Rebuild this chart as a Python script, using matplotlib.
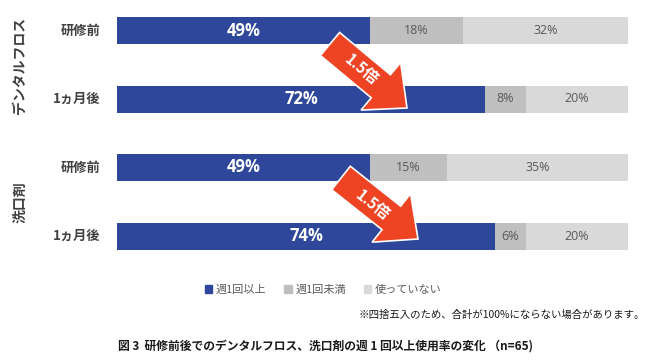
import matplotlib
matplotlib.use("Agg")
import matplotlib.pyplot as plt
import matplotlib.patches as mpatches
import numpy as np

plt.rcParams['font.family'] = ['Noto Sans CJK JP', 'DejaVu Sans']

# ---- data ----
groups = ["デンタルフロス", "洗口剤"]
row_labels = ["研修前", "1ヵ月後", "研修前", "1ヵ月後"]
weekly_plus = [49, 72, 49, 74]      # 週1回以上
weekly_less = [18, 8, 15, 6]        # 週1回未満
not_using = [32, 20, 35, 20]        # 使っていない
series_names = ["週1回以上", "週1回未満", "使っていない"]
arrow_text = "1.5倍"
footnote = "※四捨五入のため、合計が100%にならない場合があります。"
caption = "図 3  研修前後でのデンタルフロス、洗口剤の週 1 回以上使用率の変化 （n=65)"

colors = ["#2E479B", "#BFBFBF", "#D9D9D9"]

W, H = 650, 361
fig = plt.figure(figsize=(W / 100, H / 100), dpi=100)

# bar axes: x pixels 117-628, y pixels 0-270
ax = fig.add_axes([117 / W, 1 - 270 / H, 511 / W, 270 / H])
ypos = np.arange(len(row_labels))
vals = np.array([weekly_plus, weekly_less, not_using], dtype=float)
totals = vals.sum(axis=0)
fracs = vals / totals
left = np.zeros(len(row_labels))
bar_h = 27 / 68.5
for i in range(3):
    ax.barh(ypos, fracs[i], left=left, height=bar_h, color=colors[i],
            edgecolor='none', label=series_names[i])
    for j in range(len(row_labels)):
        cx = left[j] + fracs[i][j] / 2
        if i == 0:
            ax.text(cx, ypos[j], f"{int(vals[i][j])}%", ha='center', va='center',
                    color='white', fontsize=12, fontweight='bold',
                    family=['Open Sans', 'DejaVu Sans'])
        else:
            ax.text(cx, ypos[j], f"{int(vals[i][j])}%", ha='center', va='center',
                    color='#595959', fontsize=9, family=['Open Sans', 'DejaVu Sans'])
    left += fracs[i]

ax.set_xlim(0, 1)
ax.set_ylim((270 - 30.5) / 68.5, -30.5 / 68.5)
ax.axis('off')

# row labels
for j, lab in enumerate(row_labels):
    ax.text(-17 / 511, ypos[j], lab, ha='right', va='center', fontsize=9.5,
            fontweight='bold', color='#404040')

# overlay in pixel coordinates
ov = fig.add_axes([0, 0, 1, 1])
ov.set_xlim(0, W)
ov.set_ylim(H, 0)
ov.axis('off')
ov.patch.set_alpha(0)

# group labels
ov.text(20, 65, groups[0], rotation=90, ha='center', va='center', fontsize=10,
        fontweight='bold', color='#404040')
ov.text(20, 202, groups[1], rotation=90, ha='center', va='center', fontsize=10,
        fontweight='bold', color='#404040')

# arrows
def draw_arrow(x0, y0, x1, y1, tx, ty):
    dx, dy = x1 - x0, y1 - y0
    arr = mpatches.FancyArrow(x0, y0, dx, dy, width=30, head_width=62, head_length=34,
                              length_includes_head=True, fc='#EE4423', ec='white',
                              lw=1.2, zorder=5)
    ov.add_patch(arr)
    ang = -np.degrees(np.arctan2(dy, dx))
    ov.text(tx, ty, arrow_text, rotation=ang, rotation_mode='anchor', ha='center',
            va='center', color='white', fontsize=11, fontweight='bold', zorder=6)

draw_arrow(330, 44, 407, 108, 361, 70)
draw_arrow(341, 178, 418, 239, 373, 205)

# legend
handles = [mpatches.Patch(color=c) for c in colors]
leg = fig.legend(handles, series_names, loc='center', bbox_to_anchor=(323 / W, 1 - 290 / H),
                 ncol=3, frameon=False, fontsize=8, handlelength=0.7, handleheight=0.7,
                 handletextpad=0.3, columnspacing=1.6)
for t in leg.get_texts():
    t.set_color('#595959')

ov.text(645, 315, footnote, ha='right', va='center', fontsize=7.5, color='#1a1a1a')
ov.text(325, 346, caption, ha='center', va='center', fontsize=8.5, fontweight='bold',
        color='#1a1a1a')

fig.savefig("out.png", dpi=100)
